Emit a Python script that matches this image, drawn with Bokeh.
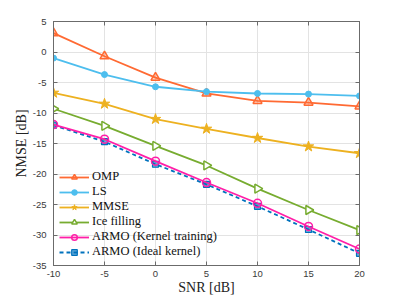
from bokeh.plotting import figure
from bokeh.models import LinearAxis, Legend, LegendItem, FixedTicker
from bokeh.embed import file_html
from bokeh.resources import INLINE

snr = [-10, -5, 0, 5, 10, 15, 20]
omp = [3.1, -0.7, -4.2, -6.8, -8.0, -8.3, -8.9]
ls = [-1.0, -3.7, -5.7, -6.5, -6.8, -6.9, -7.2]
mmse = [-6.7, -8.5, -11.0, -12.6, -14.1, -15.5, -16.6]
ice = [-9.3, -12.1, -15.4, -18.6, -22.4, -25.9, -29.2]
armo_k = [-11.9, -14.3, -17.9, -21.4, -24.8, -28.6, -32.3]
armo_i = [-12.0, -14.7, -18.4, -21.7, -25.3, -29.1, -33.0]
x_ticks = [-10, -5, 0, 5, 10, 15, 20]
x_tick_labels = ["-10", "-5", "0", "5", "10", "15", "20"]
y_ticks = [-35, -30, -25, -20, -15, -10, -5, 0, 5]
y_tick_labels = ["-35", "-30", "-25", "-20", "-15", "-10", "-5", "0", "5"]

serif = "Liberation Serif"
axc = "#6b6b6b"

p = figure(width=397, height=297, output_backend="svg", toolbar_location=None,
           x_range=(-10, 20), y_range=(-35, 5),
           min_border_left=53, min_border_right=38, min_border_top=21, min_border_bottom=10)
p.outline_line_color = axc
p.outline_line_width = 1

for ax in [p.xaxis[0], p.yaxis[0]]:
    ax.major_tick_in = 4
    ax.major_tick_out = 0
    ax.minor_tick_in = 0
    ax.minor_tick_out = 0
    ax.axis_line_color = axc
    ax.major_tick_line_color = axc
    ax.major_label_text_font = "Liberation Sans"
    ax.major_label_text_font_size = "9.5px"
    ax.major_label_text_color = "#3a3a3a"
    ax.axis_label_text_font = serif
    ax.axis_label_text_font_size = "14px"
    ax.axis_label_text_font_style = "normal"
    ax.axis_label_text_color = "#222222"
p.xaxis[0].ticker = FixedTicker(ticks=x_ticks)
p.yaxis[0].ticker = FixedTicker(ticks=y_ticks)
p.xaxis[0].major_label_overrides = {t: s for t, s in zip(x_ticks, x_tick_labels)}
p.yaxis[0].major_label_overrides = {t: s for t, s in zip(y_ticks, y_tick_labels)}
p.xaxis[0].major_label_standoff = 5
p.yaxis[0].major_label_standoff = 7
p.yaxis[0].axis_label = "NMSE [dB]"
p.yaxis[0].axis_label_standoff = 1
p.xaxis[0].axis_label = "SNR [dB]"
p.xaxis[0].axis_label_standoff = 0

for loc in ["above", "right"]:
    a = LinearAxis(ticker=FixedTicker(ticks=[], minor_ticks=x_ticks if loc == "above" else y_ticks))
    a.major_tick_in = 0
    a.major_tick_out = 0
    a.minor_tick_in = 4
    a.minor_tick_out = 0
    a.axis_line_color = axc
    a.minor_tick_line_color = axc
    a.major_label_standoff = 0
    p.add_layout(a, loc)

p.grid.grid_line_color = "#e3e3e3"
p.xgrid.ticker = FixedTicker(ticks=x_ticks)
p.ygrid.ticker = FixedTicker(ticks=y_ticks)

c_omp = "#FF6A33"
c_ls = "#4DBEEE"
c_mmse = "#EDB120"
c_ice = "#77AC30"
c_ak = "#FF1FA8"
c_ai = "#0072BD"

lw = 1.8
items = []
r1 = p.line(snr, omp, line_color=c_omp, line_width=lw)
m1 = p.scatter(snr, omp, marker="triangle", size=9, line_color=c_omp, fill_color=c_omp, fill_alpha=0.3, line_width=1.5)
items.append(LegendItem(label="OMP", renderers=[r1, m1]))
r2 = p.line(snr, ls, line_color=c_ls, line_width=lw)
m2 = p.scatter(snr, ls, marker="circle", size=6, line_color=c_ls, fill_color=c_ls)
items.append(LegendItem(label="LS", renderers=[r2, m2]))
r3 = p.line(snr, mmse, line_color=c_mmse, line_width=lw)
m3 = p.scatter(snr, mmse, marker="star", size=11, line_color=c_mmse, fill_color=c_mmse)
items.append(LegendItem(label="MMSE", renderers=[r3, m3]))
r4 = p.line(snr, ice, line_color=c_ice, line_width=lw)
m4 = p.scatter(snr, ice, marker="triangle", angle=-1.5708, size=9, line_color=c_ice, fill_color="white", line_width=1.5)
items.append(LegendItem(label="Ice filling", renderers=[r4, m4]))
r6 = p.line(snr, armo_i, line_color=c_ai, line_width=lw, line_dash="4 3")
m6 = p.scatter(snr, armo_i, marker="square", size=6, line_color=c_ai, fill_color=c_ai, fill_alpha=0.6, line_width=1.2)
r5 = p.line(snr, armo_k, line_color=c_ak, line_width=lw)
m5 = p.scatter(snr, armo_k, marker="circle", size=8, line_color=c_ak, fill_color=None, line_width=1.5)
items.append(LegendItem(label="ARMO (Kernel training)", renderers=[r5, m5]))
items.append(LegendItem(label="ARMO (Ideal kernel)", renderers=[r6, m6]))

legend = Legend(items=items, location="bottom_left")
legend.background_fill_alpha = 0
legend.border_line_color = None
legend.label_text_font = serif
legend.label_text_font_size = "12.5px"
legend.label_text_color = "#111111"
legend.glyph_width = 30
legend.glyph_height = 14
legend.label_height = 14
legend.spacing = 0
legend.padding = 0
legend.margin = 6
legend.label_standoff = 3
legend.label_text_baseline = "middle"
p.add_layout(legend)

open("out.html", "w").write(file_html(p, INLINE))
